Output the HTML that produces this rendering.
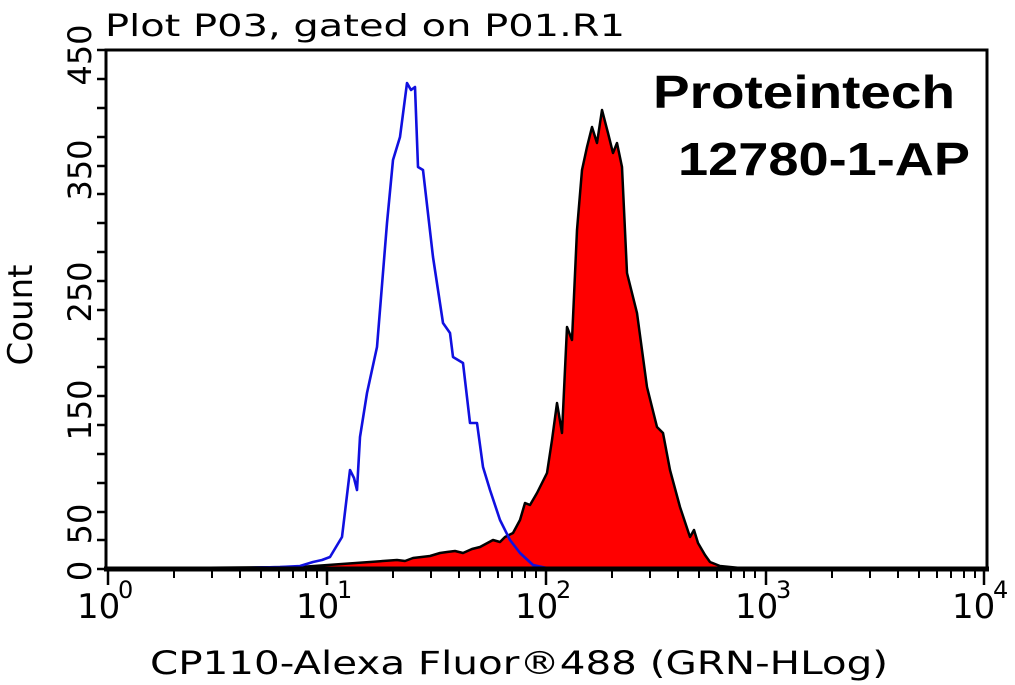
<!DOCTYPE html>
<html><head><meta charset="utf-8"><style>
html,body{margin:0;padding:0;background:#fff;}
svg{display:block;}
text{font-family:"DejaVu Sans","Liberation Sans",sans-serif;fill:#000;}
</style></head><body>
<svg width="1015" height="685" viewBox="0 0 1015 685" xmlns="http://www.w3.org/2000/svg">
<rect width="1015" height="685" fill="#fff"/>
<text x="105" y="36" font-size="30" textLength="520" lengthAdjust="spacingAndGlyphs">Plot P03, gated on P01.R1</text>
<!-- red filled -->
<path d="M180,568 L300,567 L397,560 L405,561 L413,558 L430,556 L440,553 L447,552 L455,551 L463,553 L472,549 L480,547 L493,540 L500,542 L505,537 L513,533 L520,520 L525,503 L530,505 L537,493 L547,473 L552,440 L557,403 L562,433 L567,327 L572,340 L577,230 L582,170 L587,147 L592,127 L597,143 L602,110 L608,133 L613,153 L617,143 L622,167 L627,273 L637,313 L647,387 L657,427 L663,433 L670,470 L680,507 L690,537 L694,530 L698,543 L705,555 L710,562 L720,566 L740,568 L780,568 Z" fill="#ff0000" stroke="#000" stroke-width="2.5" stroke-linejoin="round"/>
<!-- blue -->
<path d="M240,568 L280,567 L300,566 L313,562 L322,560 L330,557 L342,537 L350,470 L354,478 L357,490 L360,437 L367,393 L377,347 L387,223 L393,160 L400,137 L407,83 L411,90 L415,87 L418,167 L423,170 L433,257 L443,323 L450,333 L453,357 L463,363 L470,423 L477,423 L483,467 L490,490 L500,520 L510,540 L520,553 L533,565 L547,568" fill="none" stroke="#1010e0" stroke-width="2.6" stroke-linejoin="round"/>
<!-- frame -->
<polyline points="106,570 106,50 987,50 987,570" fill="none" stroke="#000" stroke-width="3"/>
<line x1="104" y1="569" x2="989" y2="569" stroke="#000" stroke-width="5"/>
<!-- y ticks -->
<g stroke="#000" stroke-width="2.5">
<line x1="97" y1="569" x2="106" y2="569"/><line x1="97" y1="540" x2="106" y2="540"/>
<line x1="97" y1="512" x2="106" y2="512"/><line x1="97" y1="483" x2="106" y2="483"/>
<line x1="97" y1="454" x2="106" y2="454"/><line x1="97" y1="425" x2="106" y2="425"/>
<line x1="97" y1="396" x2="106" y2="396"/><line x1="97" y1="367" x2="106" y2="367"/>
<line x1="97" y1="339" x2="106" y2="339"/><line x1="97" y1="310" x2="106" y2="310"/>
<line x1="97" y1="281" x2="106" y2="281"/><line x1="97" y1="252" x2="106" y2="252"/>
<line x1="97" y1="223" x2="106" y2="223"/><line x1="97" y1="194" x2="106" y2="194"/>
<line x1="97" y1="166" x2="106" y2="166"/><line x1="97" y1="137" x2="106" y2="137"/>
<line x1="97" y1="108" x2="106" y2="108"/><line x1="97" y1="79" x2="106" y2="79"/>
<line x1="97" y1="50" x2="106" y2="50"/>
</g>
<g font-size="32">
<text transform="translate(91,55) rotate(-90)" text-anchor="middle">450</text>
<text transform="translate(91,170) rotate(-90)" text-anchor="middle">350</text>
<text transform="translate(91,292) rotate(-90)" text-anchor="middle">250</text>
<text transform="translate(91,410) rotate(-90)" text-anchor="middle">150</text>
<text transform="translate(91,524) rotate(-90)" text-anchor="middle">50</text>
<text transform="translate(91,571) rotate(-90)" text-anchor="middle">0</text>
</g>
<text transform="translate(32,315) rotate(-90)" text-anchor="middle" font-size="34">Count</text>
<!-- x ticks -->
<g stroke="#000" stroke-width="2.5">
<line x1="108" y1="569" x2="108" y2="585"/><line x1="327" y1="569" x2="327" y2="585"/>
<line x1="546" y1="569" x2="546" y2="585"/><line x1="766" y1="569" x2="766" y2="585"/>
<line x1="984" y1="569" x2="984" y2="585"/>
</g>
<g stroke="#000" stroke-width="2">
<path d="M174,569v9M212,569v9M240,569v9M261,569v9M279,569v9M293,569v9M306,569v9M317,569v9
M393,569v9M431,569v9M459,569v9M480,569v9M498,569v9M512,569v9M525,569v9M536,569v9
M612,569v9M650,569v9M678,569v9M699,569v9M717,569v9M731,569v9M744,569v9M755,569v9
M832,569v9M870,569v9M898,569v9M919,569v9M937,569v9M951,569v9M964,569v9M975,569v9"/>
</g>
<g font-size="34">
<text x="77" y="618">10</text><text x="118" y="598" font-size="24">0</text>
<text x="296" y="618">10</text><text x="337" y="598" font-size="24">1</text>
<text x="515" y="618">10</text><text x="556" y="598" font-size="24">2</text>
<text x="735" y="618">10</text><text x="776" y="598" font-size="24">3</text>
<text x="952" y="618">10</text><text x="993" y="598" font-size="24">4</text>
</g>
<text x="150" y="674" font-size="32" textLength="738" lengthAdjust="spacingAndGlyphs">CP110-Alexa Fluor®488 (GRN-HLog)</text>
<text x="653" y="108" font-size="46" font-weight="bold" style="font-family:'Liberation Sans',sans-serif" textLength="302" lengthAdjust="spacingAndGlyphs">Proteintech</text>
<text x="678" y="175" font-size="46" font-weight="bold" style="font-family:'Liberation Sans',sans-serif" textLength="292" lengthAdjust="spacingAndGlyphs">12780-1-AP</text>
</svg>
</body></html>
